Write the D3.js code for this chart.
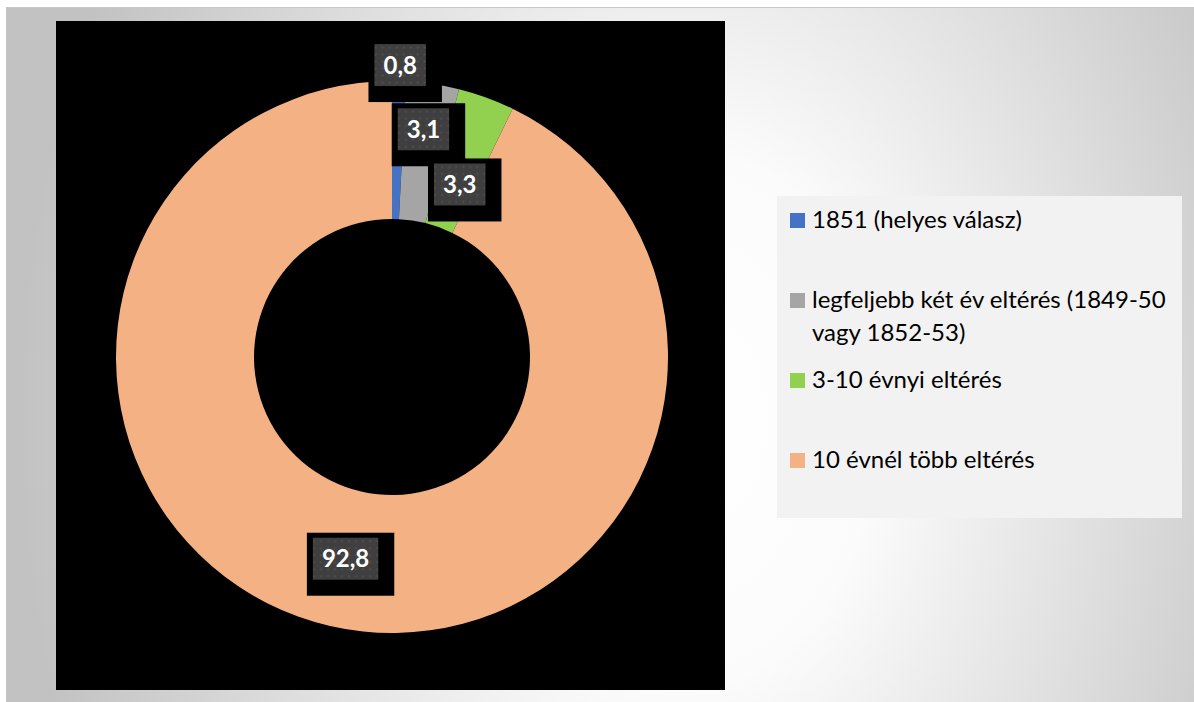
<!DOCTYPE html>
<html>
<head>
<meta charset="utf-8">
<script src="https://cdn.jsdelivr.net/npm/d3@7"></script>
<style>
  html, body { margin: 0; padding: 0; background: #ffffff; }
  svg { display: block; }
</style>
</head>
<body>
<svg id="chart"></svg>
<script>
// data
var categories = ["1851 (helyes válasz)", "legfeljebb két év eltérés (1849-50 vagy 1852-53)", "3-10 évnyi eltérés", "10 évnél több eltérés"];
var legendLines = [["1851 (helyes válasz)"], ["legfeljebb két év eltérés (1849-50", "vagy 1852-53)"], ["3-10 évnyi eltérés"], ["10 évnél több eltérés"]];
var values = [0.8, 3.1, 3.3, 92.8];
var valueLabels = ["0,8", "3,1", "3,3", "92,8"];
var colors = ["#4472C4", "#A5A5A5", "#92D050", "#F4B183"];
// manual nudges of the data labels (as in the original chart)
var labelShift = [[3, -85], [1, -23], [-3, 22], [0, 0]];

var width = 1194, height = 702;
var plot = {x: 56, y: 21, w: 669, h: 669};
var legendBox = {x: 777, y: 196, w: 405, h: 322};

var svg = d3.select("#chart")
    .attr("width", width)
    .attr("height", height);

var defs = svg.append("defs");

// background gradient
var grad = defs.append("radialGradient")
    .attr("id", "bg")
    .attr("gradientUnits", "userSpaceOnUse")
    .attr("cx", 0).attr("cy", 0).attr("r", 1)
    .attr("gradientTransform", "translate(680,420) scale(660,900)");
grad.append("stop").attr("offset", 0).attr("stop-color", "#ffffff");
grad.append("stop").attr("offset", 0.3).attr("stop-color", "#fbfbfb");
grad.append("stop").attr("offset", 1).attr("stop-color", "#c2c2c2");

// dotted texture for the data labels
var pat = defs.append("pattern")
    .attr("id", "dots")
    .attr("patternUnits", "userSpaceOnUse")
    .attr("width", 7).attr("height", 7);
pat.append("rect").attr("width", 7).attr("height", 7).attr("fill", "#3f3f3f");
pat.append("circle").attr("cx", 3.5).attr("cy", 3.5).attr("r", 1).attr("fill", "#535353");

svg.append("rect")
    .attr("x", 6).attr("y", 7)
    .attr("width", width - 6).attr("height", height - 7)
    .attr("fill", "url(#bg)");
svg.append("line")
    .attr("x1", 6).attr("x2", width).attr("y1", 7.5).attr("y2", 7.5)
    .attr("stroke", "#c8c8c8");
svg.append("line")
    .attr("x1", 6.5).attr("x2", 6.5).attr("y1", 7).attr("y2", height)
    .attr("stroke", "#c4c4c4");

// plot area
svg.append("rect")
    .attr("x", plot.x).attr("y", plot.y)
    .attr("width", plot.w).attr("height", plot.h)
    .attr("fill", "#000000");

// donut
var outerR = 276, innerR = 138;
var cx = 392, cy = 357;

var pie = d3.pie().sort(null).value(d => d);
var arcs = pie(values);
var arc = d3.arc().innerRadius(innerR).outerRadius(outerR);

var g = svg.append("g")
    .attr("transform", "translate(" + cx + "," + cy + ")");

g.selectAll("path.slice")
    .data(arcs)
    .enter().append("path")
    .attr("class", "slice")
    .attr("d", arc)
    .attr("fill", (d, i) => colors[i]);

// data labels
var labels = g.selectAll("g.lbl")
    .data(arcs)
    .enter().append("g")
    .attr("class", "lbl")
    .attr("transform", function(d, i) {
        var c = arc.centroid(d);
        return "translate(" + (c[0] + labelShift[i][0]) + "," + (c[1] + labelShift[i][1]) + ")";
    });

labels.each(function(d, i) {
    var lg = d3.select(this);
    var outer = lg.append("rect").attr("fill", "#000000");
    var inner = lg.append("rect").attr("fill", "url(#dots)");
    var t = lg.append("text")
        .attr("text-anchor", "middle")
        .attr("dy", "0.36em")
        .attr("fill", "#ffffff")
        .style("font-family", "Lato, 'Open Sans', sans-serif")
        .style("font-weight", "bold")
        .style("font-size", "24px")
        .text(valueLabels[i]);
    var w = t.node().getComputedTextLength() + 18;
    var h = 42;
    inner.attr("x", -w / 2).attr("y", -h / 2).attr("width", w).attr("height", h);
    outer.attr("x", -w / 2 - 6).attr("y", -h / 2 - 5).attr("width", w + 22).attr("height", h + 21);
});

// legend
svg.append("rect")
    .attr("x", legendBox.x).attr("y", legendBox.y)
    .attr("width", legendBox.w).attr("height", legendBox.h)
    .attr("fill", "#f2f2f2");

var legend = svg.selectAll("g.legend")
    .data(categories)
    .enter().append("g")
    .attr("class", "legend")
    .attr("transform", (d, i) => "translate(" + (legendBox.x + 13) + "," + (legendBox.y + 32 + i * 80) + ")");

legend.append("rect")
    .attr("x", 0).attr("y", -15)
    .attr("width", 15).attr("height", 15)
    .attr("fill", (d, i) => colors[i]);

legend.append("text")
    .attr("fill", "#000000")
    .style("font-family", "Lato, 'Open Sans', sans-serif")
    .style("font-size", "24px")
    .each(function(d, i) {
        d3.select(this).selectAll("tspan")
            .data(legendLines[i])
            .enter().append("tspan")
            .attr("x", 22)
            .attr("dy", (l, j) => j === 0 ? 0 : 33)
            .text(l => l);
    });
</script>
</body>
</html>
